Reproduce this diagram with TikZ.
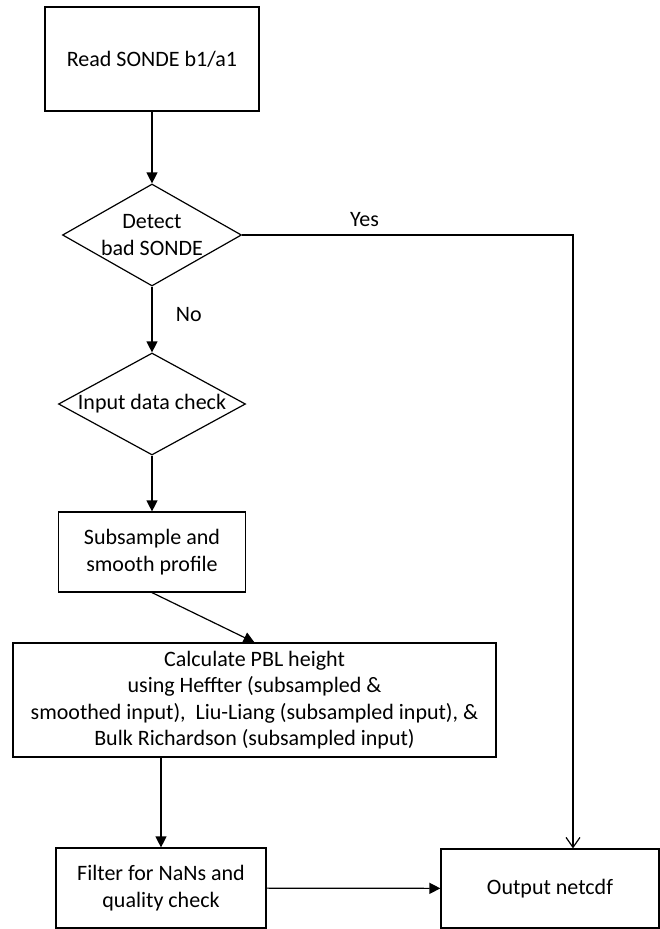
\documentclass[tikz,border=0pt]{standalone}
\usepackage{fontspec}
\setmainfont{Carlito}
\usepackage{tikz}
\usetikzlibrary{arrows.meta,positioning,shapes.geometric}

\begin{document}
\begin{tikzpicture}[
    x=1pt,y=-1pt,
    every node/.style={font=\fontsize{22}{26.3}\selectfont},
    proc/.style={draw,line width=1.2pt,rectangle,align=center,inner sep=0pt},
    decide/.style={draw,line width=1.2pt,diamond,align=center,inner sep=-3pt},
    arr/.style={line width=1.2pt,-{Triangle[length=11pt,width=11pt]}},
    openarr/.style={line width=1.2pt,-{Straight Barb[length=10pt,width=14pt]}}
]
\useasboundingbox (0,0) rectangle (660,929);
\node[proc,minimum width=214pt,minimum height=104pt] (read) at (152,59) {Read SONDE b1/a1};
\node[decide,shape aspect=1.76,minimum width=179pt,minimum height=102pt] (detect) at (152,235) {Detect\\bad SONDE};
\node[decide,shape aspect=1.83,minimum width=187pt,minimum height=102pt] (input) at (152,404) {Input data check};
\node[proc,minimum width=187pt,minimum height=80pt] (sub) at (152,552) {Subsample and\\smooth profile};
\node[proc,minimum width=483pt,minimum height=114pt] (pbl) at (254.5,700) {Calculate PBL height\\using Heffter (subsampled \&\\smoothed input), \ Liu-Liang (subsampled input), \&\\Bulk Richardson (subsampled input)};
\node[proc,minimum width=210pt,minimum height=80pt] (filt) at (161,888) {Filter for NaNs and\\quality check};
\node[proc,minimum width=218pt,minimum height=79pt] (out) at (550,888.5) {Output netcdf};
\coordinate (bend) at (573,235);

\draw[arr] (read) -- (detect);
\draw[arr] (detect) -- node[pos=0.42,right=20pt] {No} (input);
\draw[arr] (input) -- (sub);
\draw[arr] (sub.south) -- (pbl.north);
\draw[arr] (filt.north |- pbl.south) -- (filt.north);
\draw[arr] (filt) -- (out);
\draw[openarr] (detect.east) -- node[pos=0.37,above=4pt] {Yes} (bend) -- (bend |- out.north);
\end{tikzpicture}
\end{document}
